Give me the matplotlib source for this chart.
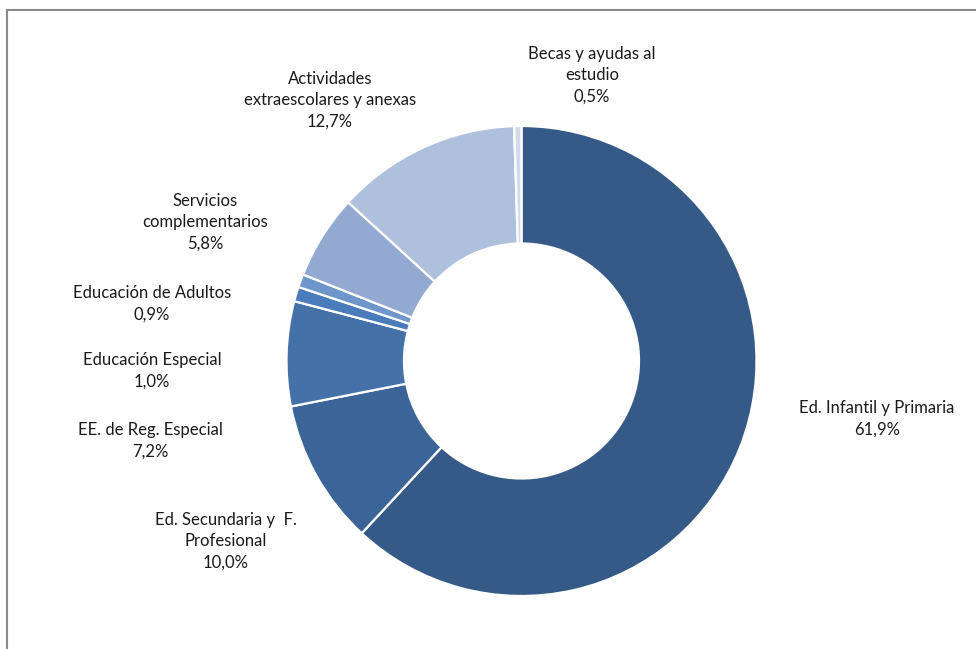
import matplotlib
matplotlib.use("Agg")
import matplotlib.pyplot as plt
from matplotlib.lines import Line2D

plt.rcParams['font.family'] = ['Lato', 'DejaVu Sans']

categories = [
    "Ed. Infantil y Primaria",
    "Ed. Secundaria y  F.\nProfesional",
    "EE. de Reg. Especial",
    "Educación Especial",
    "Educación de Adultos",
    "Servicios\ncomplementarios",
    "Actividades\nextraescolares y anexas",
    "Becas y ayudas al\nestudio",
]
values = [61.9, 10.0, 7.2, 1.0, 0.9, 5.8, 12.7, 0.5]
colors = ["#365A87", "#3C6597", "#4472A8", "#4A7BBA", "#6F96CA",
          "#94A9D1", "#AFC0DC", "#D2DBEB"]

# label centre positions in pixels (layout only)
label_px = [(877, 419), (226, 541), (150, 441), (152, 371),
            (152, 304), (205, 222), (330, 100), (592, 75)]

W, H = 976, 649
cx, cy, R = 521.5, 361.0, 235.0

fig = plt.figure(figsize=(W / 100, H / 100), dpi=100)
ax = fig.add_axes([0, 0, 1, 1])
ax.axis('off')

wedges, _ = ax.pie(values, colors=colors, startangle=90, counterclock=False,
                   radius=1.0, wedgeprops=dict(width=0.5, edgecolor='white', linewidth=1.6))
ax.set_xlim((0 - cx) / R, (W - cx) / R)
ax.set_ylim((cy - H) / R, (cy - 0) / R)
ax.set_aspect('auto')

for cat, val, (px, py) in zip(categories, values, label_px):
    txt = f"{cat}\n" + f"{val:.1f}".replace('.', ',') + "%"
    ax.text((px - cx) / R, (cy - py) / R, txt, ha='center', va='center',
            fontsize=12, color='#1a1a1a', linespacing=1.42)

# frame
fig.add_artist(Line2D([7 / W, 7 / W], [0, 1 - 10 / H], transform=fig.transFigure,
                      color='#8a8a8a', lw=1.5))
fig.add_artist(Line2D([7 / W, 1], [1 - 10 / H, 1 - 10 / H], transform=fig.transFigure,
                      color='#8a8a8a', lw=1.5))

fig.savefig("out.png", dpi=100, facecolor='white')
